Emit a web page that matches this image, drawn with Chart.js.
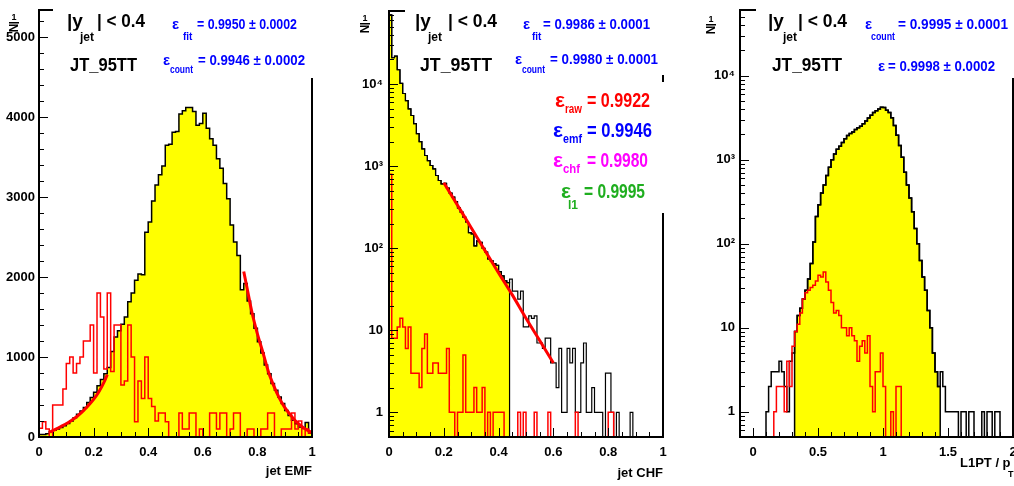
<!DOCTYPE html>
<html>
<head>
<meta charset="utf-8">
<script src="https://cdn.jsdelivr.net/npm/chart.js@4.4.1/dist/chart.umd.min.js"></script>
<style>
  body { margin: 0; background: #fff; width: 1014px; height: 486px; position: relative; overflow: hidden; }
  canvas { position: absolute; top: 0; }
</style>
</head>
<body>
<canvas id="emf" width="330" height="486" style="left:0"></canvas>
<canvas id="chf" width="350" height="486" style="left:330px"></canvas>
<canvas id="l1" width="334" height="486" style="left:680px"></canvas>
<script>
// ---- jet EMF (linear) ----
const emfBinW = 0.0125;
const emfAll = [30, 30, 40, 65, 85, 100, 120, 140, 170, 200,
  240, 285, 325, 370, 430, 495, 560, 640, 720, 790,
  870, 1070, 1250, 1330, 1410, 1500, 1690, 1800, 1960, 2040,
  2030, 2560, 2690, 2950, 3150, 3280, 3390, 3650, 3660, 3810,
  3820, 4040, 4080, 4120, 4120, 4070, 3900, 3920, 4050, 3860,
  3730, 3650, 3480, 3360, 3170, 2980, 2650, 2440, 2270, 1840,
  1920, 1700, 1540, 1360, 1190, 1050, 900, 790, 670, 585,
  500, 420, 330, 270, 210, 165, 125, 105, 180, 50];
const emfFail = [110, 190, 100, 0, 400, 400, 400, 600, 920, 1000,
  800, 920, 1000, 1200, 1200, 1400, 800, 1800, 1500, 850,
  1800, 820, 1400, 1400, 650, 700, 1400, 1000, 190, 700,
  480, 1000, 480, 380, 200, 300, 300, 190, 0, 0,
  0, 300, 100, 100, 300, 300, 0, 100, 0, 0,
  300, 300, 100, 300, 300, 0, 100, 300, 300, 0,
  0, 100, 100, 0, 0, 100, 100, 300, 300, 0,
  0, 100, 100, 100, 300, 100, 200, 0, 100, 50];
const emfFitLoX = [0.04, 0.06, 0.08, 0.10, 0.12, 0.14, 0.16, 0.18, 0.20, 0.22, 0.24, 0.25];
const emfFitLoY = [60, 95, 130, 165, 210, 260, 320, 390, 470, 570, 700, 780];
const emfFitHiX = [0.75, 0.76, 0.78, 0.80, 0.82, 0.84, 0.86, 0.88, 0.90, 0.92, 0.94, 0.96, 0.98, 1.0];
const emfFitHiY = [2070, 1900, 1560, 1290, 1060, 820, 640, 490, 370, 280, 200, 140, 90, 55];
const emfXTicks = [0, 0.2, 0.4, 0.6, 0.8, 1];
const emfXLabels = ['0', '0.2', '0.4', '0.6', '0.8', '1'];
const emfYTicks = [0, 1000, 2000, 3000, 4000, 5000];
const emfYLabels = ['0', '1000', '2000', '3000', '4000', '5000'];

// ---- jet CHF (log) ----
const chfBinW = 0.01;
const chfAll = [70000, 21000, 22000, 15000, 10200, 7700, 6300, 5000, 4150, 3300,
  2500, 1990, 1630, 1350, 1170, 1020, 930, 770, 670, 610,
  620, 540, 470, 420, 370, 310, 275, 240, 210, 155,
  150, 107, 123, 118, 100, 90, 74, 70, 65, 62,
  52, 46, 40, 38, 42, 30, 30, 24, 30, 11,
  11, 15, 14, 15, 7, 7, 6, 8, 8, 4,
  4, 2, 6, 1, 1, 6, 4, 6, 1, 1,
  4, 7, 1, 1, 2, 1, 1, 1, 0, 3,
  3, 1, 0, 1, 0, 0, 0, 0, 1, 0,
  0, 0, 0, 0, 0, 0, 0, 0, 0, 0];
const chfPassBins = 44;
const chfFail = [800, 8, 8, 11, 14, 11, 6, 11, 3, 3,
  3, 2, 6, 9, 3, 3, 4, 4, 3, 3,
  3, 6, 1, 1, 0, 1, 1, 5, 1, 1,
  1, 2, 1, 1, 2, 0, 1, 0, 1, 1,
  1, 1, 0, 0, 0, 0, 0, 1, 0, 1,
  0, 0, 0, 1, 0, 0, 0, 0, 1, 0,
  0, 0, 0, 0, 0, 0, 0, 0, 1, 0,
  0, 0, 0, 0, 0, 0, 0, 0, 0, 0,
  1, 1, 0, 0, 0, 0, 0, 0, 0, 0,
  0, 0, 0, 0, 0, 0, 0, 0, 0, 0];
const chfFitX = [0.20, 0.25, 0.30, 0.35, 0.40, 0.45, 0.50, 0.55, 0.60];
const chfFitY = [630, 335, 178, 94, 50, 27, 14, 7.5, 4];
const chfXTicks = [0, 0.2, 0.4, 0.6, 0.8, 1];
const chfXLabels = ['0', '0.2', '0.4', '0.6', '0.8', '1'];
const logYTicks = [1, 10, 100, 1000, 10000];
const logYLabels = ['1', '10', '10²', '10³', '10⁴'];

// ---- L1PT / pT (log) ----
const l1BinW = 0.02;
const l1All = [0, 0, 0, 0, 0, 1, 2, 3, 3, 3,
  4, 3, 2, 1, 4, 5, 9, 14, 17, 22,
  28, 38, 58, 105, 210, 290, 400, 500, 650, 810,
  1000, 1170, 1330, 1450, 1600, 1780, 1940, 2050, 2130, 2290,
  2400, 2500, 2680, 2880, 3140, 3370, 3650, 3830, 4020, 4200,
  4180, 3880, 3650, 3160, 2560, 1960, 1480, 1070, 710, 500,
  350, 240, 152, 100, 63, 40, 28, 16, 10, 5,
  3, 2, 3, 2, 1, 1, 1, 1, 1, 0,
  1, 1, 0, 1, 1, 0, 0, 0, 1, 0,
  1, 1, 0, 1, 1, 0, 0, 0, 0, 0];
const l1PassFirst = 16, l1PassLast = 71;
const l1Fail = [0, 0, 0, 0, 0, 0, 0, 0, 1, 2,
  2, 2, 1, 4, 2, 6, 9, 11, 15, 22,
  26, 28, 30, 32, 36, 42, 40, 46, 35, 28,
  20, 15, 16, 14, 10, 10, 8, 10, 8, 7,
  4, 6, 7, 5, 8, 2, 1, 3, 3, 5,
  2, 0, 0, 1, 0, 2, 2, 0, 0, 0,
  0, 0, 0, 0, 0, 0, 0, 0, 0, 0,
  0, 0, 0, 0, 0, 0, 0, 0, 0, 0,
  0, 0, 0, 0, 0, 0, 0, 0, 0, 0,
  0, 0, 0, 0, 0, 0, 0, 0, 0, 0];
const l1XTicks = [0, 0.5, 1, 1.5, 2];
const l1XLabels = ['0', '0.5', '1', '1.5', '2'];

const FONT = '"Liberation Sans", Arial, sans-serif';
const BLUE = '#0000ff', RED = '#ff0000', MAG = '#ff00ff', GREEN = '#1fae1f';

Chart.defaults.font.family = FONT;

function histPoints(vals, x0, w, floor) {
  const pts = [{x: x0, y: Math.max(vals[0], floor)}];
  vals.forEach((v, i) => pts.push({x: x0 + (i + 0.5) * w, y: Math.max(v, floor)}));
  pts.push({x: x0 + vals.length * w, y: Math.max(vals[vals.length - 1], floor)});
  return pts;
}
const curve = (xs, ys) => xs.map((x, i) => ({x, y: ys[i]}));
const steps = (a, b, s) => { const out = []; for (let k = 0; a + k * s <= b + 1e-9; k++) out.push(+(a + k * s).toFixed(4)); return out; };
const logSteps = (lo, hi) => {
  const out = [];
  for (let d = 0.1; d <= hi; d *= 10) for (let k = 1; k <= 9; k++) { const v = +(k * d).toPrecision(3); if (v >= lo && v <= hi) out.push(v); }
  return out;
};
const labelOf = (ticks, labels) => v => { const i = ticks.findIndex(t => Math.abs(t - v) < 1e-6); return i >= 0 ? labels[i] : ''; };
const isMajor = ticks => v => ticks.some(t => Math.abs(t - v) < 1e-6);

// ROOT style frame, inward ticks, white paves and annotation text
function rootFrame(cfg) {
  return {
    id: 'rootFrame',
    afterDraw(chart) {
      const {ctx, chartArea: a} = chart;
      const sx = chart.scales.x, sy = chart.scales.y;
      const ox = cfg.ox;
      ctx.save();
      ctx.strokeStyle = '#000';
      ctx.lineWidth = 1;
      ctx.beginPath();
      sx.ticks.forEach(t => {
        const p = Math.round(sx.getPixelForValue(t.value)) + 0.5;
        ctx.moveTo(p, a.bottom); ctx.lineTo(p, a.bottom - (cfg.xMajor(t.value) ? 9 : 5));
      });
      sy.ticks.forEach(t => {
        const p = Math.round(sy.getPixelForValue(t.value)) + 0.5;
        ctx.moveTo(a.left, p); ctx.lineTo(a.left + (cfg.yMajor(t.value) ? 9 : 5), p);
      });
      ctx.stroke();
      ctx.lineWidth = 2;
      ctx.strokeRect(a.left, a.top, a.right - a.left, a.bottom - a.top);
      ctx.fillStyle = '#fff';
      cfg.paves.forEach(([x0, y0, x1, y1]) => ctx.fillRect(x0 - ox, y0, x1 - x0, y1 - y0));
      ctx.textAlign = 'left';
      ctx.textBaseline = 'alphabetic';
      cfg.runs.forEach(([t, x, y, size, color, w]) => {
        ctx.font = `bold ${size}px ${FONT}`;
        ctx.fillStyle = color || '#000';
        if (w) ctx.fillText(t, x - ox, y, w); else ctx.fillText(t, x - ox, y);
      });
      // y title
      const [nx, ny] = cfg.yTitle;
      ctx.fillStyle = '#000';
      ctx.save();
      ctx.translate(nx - ox, ny);
      ctx.rotate(-Math.PI / 2);
      ctx.textAlign = 'center';
      ctx.font = `bold 12px ${FONT}`;
      ctx.fillText('N', 0, 0);
      ctx.restore();
      ctx.textAlign = 'center';
      ctx.font = `bold 9px ${FONT}`;
      ctx.fillText('1', nx - 4 - ox, ny - 8);
      ctx.fillRect(nx - 9 - ox, ny - 6, 10, 1.5);
      // x title
      ctx.textAlign = cfg.xTitleAlign;
      cfg.xTitle.forEach(([t, x, y, size]) => {
        ctx.font = `bold ${size}px ${FONT}`;
        ctx.fillText(t, x - ox, y);
      });
      ctx.restore();
    }
  };
}

function makeChart(id, datasets, s) {
  const tickFont = {family: FONT, weight: 'bold', size: 13};
  return new Chart(document.getElementById(id), {
    type: 'line',
    data: {datasets},
    options: {
      responsive: false,
      animation: false,
      devicePixelRatio: 1,
      layout: {padding: {top: s.top, right: s.right, left: 0, bottom: 0}},
      elements: {point: {radius: 0}},
      plugins: {legend: {display: false}, tooltip: {enabled: false}},
      scales: {
        x: {
          type: 'linear', min: s.xMin, max: s.xMax,
          afterBuildTicks: sc => { sc.ticks = s.xAll.map(v => ({value: v})); },
          afterFit: sc => { sc.height = 49; sc.paddingLeft = 0; sc.paddingRight = 0; },
          ticks: {autoSkip: false, maxRotation: 0, padding: 8, color: '#000', font: tickFont,
            callback: labelOf(s.xTicks, s.xLabels)},
          grid: {display: false, drawTicks: false},
          border: {display: false}
        },
        y: {
          type: s.yType, min: s.yMin, max: s.yMax,
          afterBuildTicks: sc => { sc.ticks = s.yAll.map(v => ({value: v})); },
          afterFit: sc => { sc.width = s.yWidth; sc.paddingTop = 0; sc.paddingBottom = 0; },
          ticks: {autoSkip: false, padding: s.yPad, color: '#000', font: tickFont,
            callback: labelOf(s.yTicks, s.yLabels)},
          grid: {display: false, drawTicks: false},
          border: {display: false}
        }
      }
    },
    plugins: [rootFrame(s.frame)]
  });
}

const fitStyle = {borderColor: RED, borderWidth: 3, tension: 0.4, cubicInterpolationMode: 'monotone', fill: false};

// panel 1
makeChart('emf', [
  {data: curve(emfFitLoX, emfFitLoY), ...fitStyle},
  {data: curve(emfFitHiX, emfFitHiY), ...fitStyle},
  {data: histPoints(emfFail, 0, emfBinW, 0), borderColor: RED, borderWidth: 1.5, stepped: 'middle', fill: false},
  {data: histPoints(emfAll, 0, emfBinW, 0), borderColor: '#000', borderWidth: 1.5, stepped: 'middle',
    fill: 'start', backgroundColor: '#ffff00'}
], {
  top: 10, right: 18, yWidth: 39, yPad: 4,
  xMin: 0, xMax: 1, xAll: steps(0, 1, 0.05), xTicks: emfXTicks, xLabels: emfXLabels,
  yType: 'linear', yMin: 0, yMax: 5340, yAll: steps(0, 5200, 200), yTicks: emfYTicks, yLabels: emfYLabels,
  frame: {
    ox: 0, xMajor: isMajor(emfXTicks), yMajor: isMajor(emfYTicks),
    paves: [[53, 0, 318, 78]],
    runs: [
      ['|y', 67, 27, 19], ['jet', 80, 41, 12], ['| < 0.4', 97, 27, 19, '#000', 48],
      ['JT_95TT', 70, 71, 19, '#000', 67],
      ['ε', 172, 29, 15, BLUE], ['fit', 183, 40, 10, BLUE], ['= 0.9950 ± 0.0002', 197, 29, 14, BLUE, 100],
      ['ε', 163, 65, 15, BLUE], ['count', 170, 73, 10, BLUE, 23], ['= 0.9946 ± 0.0002', 198, 65, 14, BLUE, 107]
    ],
    yTitle: [18, 28],
    xTitleAlign: 'right', xTitle: [['jet EMF', 312, 475, 13]]
  }
});

// panel 2
const chfFloor = 0.5;
makeChart('chf', [
  {data: curve(chfFitX, chfFitY), ...fitStyle, tension: 0},
  {data: histPoints(chfFail, 0, chfBinW, chfFloor), borderColor: RED, borderWidth: 1.5, stepped: 'middle', fill: false},
  {data: histPoints(chfAll, 0, chfBinW, chfFloor), borderColor: '#000', borderWidth: 1.2, stepped: 'middle', fill: false},
  {data: histPoints(chfAll.map((v, i) => i < chfPassBins ? v : 0), 0, chfBinW, chfFloor),
    borderColor: '#000', borderWidth: 1.2, stepped: 'middle', fill: 'start', backgroundColor: '#ffff00'}
], {
  top: 11, right: 17, yWidth: 59, yPad: 6,
  xMin: 0, xMax: 1, xAll: steps(0, 1, 0.05), xTicks: chfXTicks, xLabels: chfXLabels,
  yType: 'logarithmic', yMin: chfFloor, yMax: 78000, yAll: logSteps(0.5, 78000), yTicks: logYTicks, yLabels: logYLabels,
  frame: {
    ox: 330, xMajor: isMajor(chfXTicks), yMajor: isMajor(logYTicks),
    paves: [[405, 0, 680, 75], [540, 82, 680, 213]],
    runs: [
      ['|y', 415, 27, 19], ['jet', 428, 41, 12], ['| < 0.4', 448, 27, 19, '#000', 49],
      ['JT_95TT', 420, 71, 19, '#000', 72],
      ['ε', 523, 29, 15, BLUE], ['fit', 532, 40, 10, BLUE], ['= 0.9986 ± 0.0001', 543, 29, 14, BLUE, 107],
      ['ε', 515, 64, 15, BLUE], ['count', 522, 73, 10, BLUE, 23], ['= 0.9980 ± 0.0001', 550, 64, 14, BLUE, 108],
      ['ε', 555, 107, 21, RED], ['raw', 565, 113, 12, RED, 17], ['= 0.9922', 587, 107, 21, RED, 63],
      ['ε', 553, 137, 21, BLUE], ['emf', 563, 143, 12, BLUE, 19], ['= 0.9946', 587, 137, 21, BLUE, 65],
      ['ε', 553, 167, 21, MAG], ['chf', 563, 173, 12, MAG, 17], ['= 0.9980', 587, 167, 21, MAG, 61],
      ['ε', 561, 198, 21, GREEN], ['l1', 568, 209, 12, GREEN], ['= 0.9995', 584, 198, 21, GREEN, 61]
    ],
    yTitle: [369, 29],
    xTitleAlign: 'right', xTitle: [['jet CHF', 663, 477, 13]]
  }
});

// panel 3
const l1Floor = 0.5;
makeChart('l1', [
  {data: histPoints(l1Fail, 0, l1BinW, l1Floor), borderColor: RED, borderWidth: 1.5, stepped: 'middle', fill: false},
  {data: histPoints(l1All, 0, l1BinW, l1Floor), borderColor: '#000', borderWidth: 1.5, stepped: 'middle', fill: false},
  {data: histPoints(l1All.map((v, i) => i >= l1PassFirst && i <= l1PassLast ? v : 0), 0, l1BinW, l1Floor),
    borderColor: '#000', borderWidth: 1.5, stepped: 'middle', fill: 'start', backgroundColor: '#ffff00'}
], {
  top: 10, right: 1, yWidth: 60, yPad: 5,
  xMin: -0.1, xMax: 2, xAll: steps(-0.1, 2, 0.1), xTicks: l1XTicks, xLabels: l1XLabels,
  yType: 'logarithmic', yMin: l1Floor, yMax: 60500, yAll: logSteps(0.5, 60500), yTicks: logYTicks, yLabels: logYLabels,
  frame: {
    ox: 680, xMajor: isMajor(l1XTicks), yMajor: isMajor(logYTicks),
    paves: [[756, 0, 1014, 78]],
    runs: [
      ['|y', 768, 27, 19], ['jet', 783, 41, 12], ['| < 0.4', 798, 27, 19, '#000', 49],
      ['JT_95TT', 772, 71, 19, '#000', 70],
      ['ε', 865, 29, 15, BLUE], ['count', 871, 40, 10, BLUE, 24], ['= 0.9995 ± 0.0001', 898, 29, 14, BLUE, 110],
      ['ε', 878, 71, 15, BLUE], ['= 0.9998 ± 0.0002', 888, 71, 14, BLUE, 107]
    ],
    yTitle: [715, 30],
    xTitleAlign: 'left', xTitle: [['L1PT / p', 960, 467, 13], ['T', 1008, 477, 9]]
  }
});
</script>
</body>
</html>
